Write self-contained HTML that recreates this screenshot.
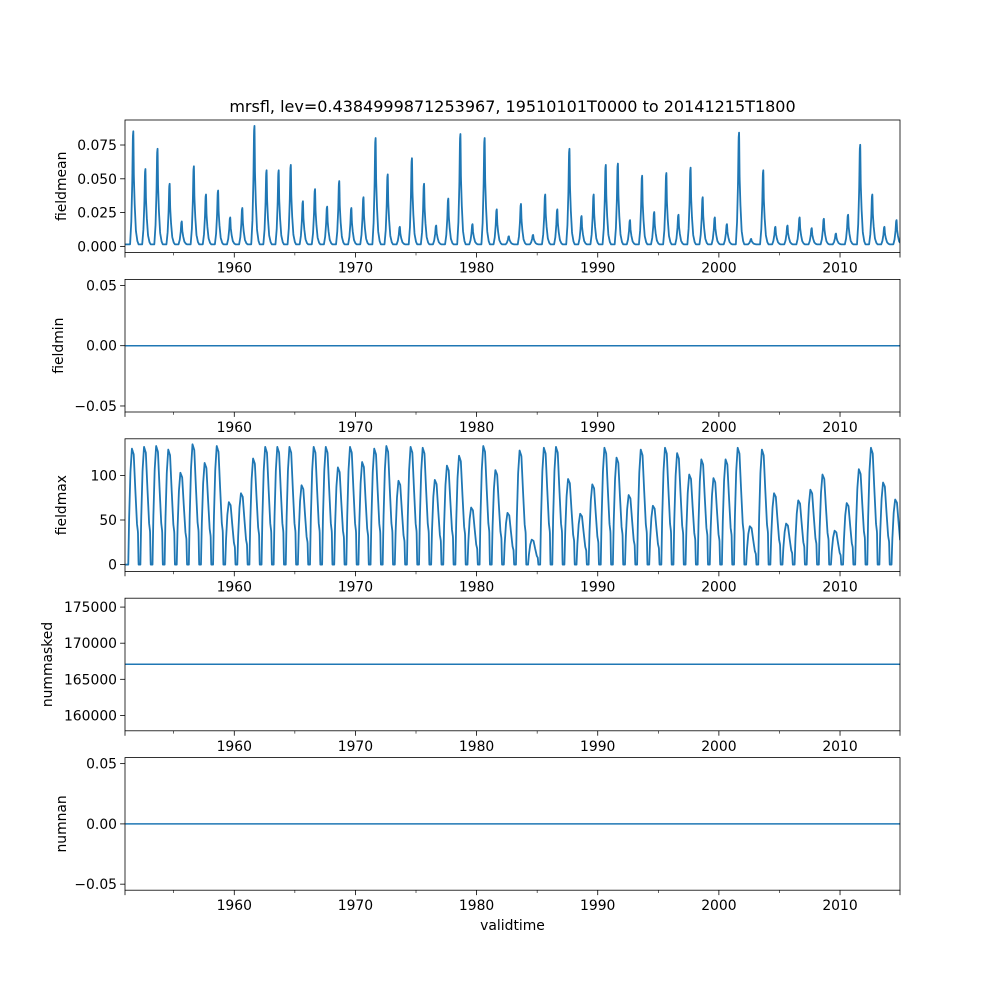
<!DOCTYPE html>
<html><head><meta charset="utf-8">
<style>
body{margin:0;background:#fff;}
svg{display:block;font-family:"DejaVu Sans","Liberation Sans",sans-serif;}
</style></head>
<body>
<svg id="fig" width="1000" height="1000" viewBox="0 0 1000 1000">
<rect width="1000" height="1000" fill="#fff"/>
<text x="512.5" y="112" font-size="16" text-anchor="middle">mrsfl, lev=0.4384999871253967, 19510101T0000 to 20141215T1800</text>
<text x="512.5" y="930" font-size="13.9" text-anchor="middle">validtime</text>
</svg>
<script>
const years = [1951,1952,1953,1954,1955,1956,1957,1958,1959,1960,1961,1962,1963,1964,1965,1966,1967,1968,1969,1970,1971,1972,1973,1974,1975,1976,1977,1978,1979,1980,1981,1982,1983,1984,1985,1986,1987,1988,1989,1990,1991,1992,1993,1994,1995,1996,1997,1998,1999,2000,2001,2002,2003,2004,2005,2006,2007,2008,2009,2010,2011,2012,2013,2014];
const meanPeaks = [.084,.056,.071,.045,.017,.058,.037,.040,.020,.027,.088,.055,.055,.059,.032,.041,.028,.047,.027,.035,.079,.052,.013,.064,.045,.014,.034,.082,.015,.079,.026,.006,.030,.007,.037,.026,.071,.021,.037,.059,.060,.018,.051,.024,.053,.022,.057,.035,.020,.015,.083,.004,.055,.013,.014,.020,.012,.019,.008,.022,.074,.037,.013,.018];
const maxPeaks = [130,132,133,129,103,135,114,133,70,80,119,132,132,132,89,132,132,109,132,115,130,133,94,132,131,95,111,122,64,133,106,58,128,28,131,132,96,57,90,131,120,78,129,66,131,125,101,118,97,118,131,43,129,80,46,72,84,101,38,69,107,131,92,73];
const fieldminValue = [0];
const nummaskedValue = [167085];
const numnanValue = [0];
const xTicks = [1960,1970,1980,1990,2000,2010];
const xMinor = [1955,1965,1975,1985,1995,2005];
const meanTicks = [0,0.025,0.05,0.075];
const meanTickLabels = ["0.000","0.025","0.050","0.075"];
const minTicks = [-0.05,0,0.05];
const minTickLabels = ["\u22120.05","0.00","0.05"];
const maxTicks = [0,50,100];
const maskTicks = [160000,165000,170000,175000];

const NS="http://www.w3.org/2000/svg";
const svg=document.getElementById('fig');
const L=125,R=900,H=132.6;
const tops=[120,279.4,438.8,598.2,757.6];
const T0=1950.98,T1=2014.95,TS=1951.0,TE=2014.96;
function sx(t){return L+(t-T0)*(R-L)/(T1-T0);}
function mk(tag,attrs,parent){const e=document.createElementNS(NS,tag);for(const k in attrs)e.setAttribute(k,attrs[k]);(parent||svg).appendChild(e);return e;}
function interp(tpl,f){if(f<=tpl[0][0]||f>=tpl[tpl.length-1][0])return 0;for(let i=1;i<tpl.length;i++){if(f<=tpl[i][0]){const a=tpl[i-1],b=tpl[i];return a[1]+(b[1]-a[1])*(f-a[0])/(b[0]-a[0]);}}return 0;}
const meanShape=[[0.4,0],[0.5,0.2],[0.58,0.55],[0.63,0.95],[0.67,1],[0.71,0.6],[0.78,0.35],[0.88,0.12],[1.0,0.03],[1.1,0]];
const maxShape=[[0.25,0],[0.32,0.4],[0.43,0.8],[0.55,1],[0.7,0.95],[0.83,0.65],[0.97,0.35],[1.05,0.28],[1.1,0]];
function series(peaks,shape,base,t){let v=base;for(let i=0;i<years.length;i++){const f=t-years[i];if(f>-0.1&&f<1.2)v+=peaks[i]*interp(shape,f);}return v;}

function panel(idx,name,ylabel,ymin,ymax,ticks,labels){
  const top=tops[idx],bot=top+H;
  const g=mk('g',{},svg);
  
  
  const sy=v=>bot-(v-ymin)/(ymax-ymin)*H;
  ticks.forEach((v,i)=>{const y=sy(v);
    const tk=mk('line',{x1:L-4.9,x2:L,y1:y,y2:y,stroke:'#000','stroke-width':0.8},g);
    
    
    const tx=mk('text',{x:L-8,y:y+5,'font-size':13.9,'text-anchor':'end'},g);
    tx.textContent=labels?labels[i]:String(v);
    
    
  });
  [T0,...xTicks,T1].forEach(t=>{const x=sx(t);const tk=mk('line',{x1:x,x2:x,y1:bot,y2:bot+4.9,stroke:'#000','stroke-width':0.8},g);
    
    });
  xMinor.forEach(t=>{const x=sx(t);const tk=mk('line',{x1:x,x2:x,y1:bot,y2:bot+2.8,stroke:'#000','stroke-width':0.6},g);
    
    });
  xTicks.forEach(t=>{const tx=mk('text',{x:sx(t),y:bot+20,'font-size':13.9,'text-anchor':'middle'},g);tx.textContent=String(t);
    
    });
  const yl=mk('text',{x:0,y:0,'font-size':13.9,'text-anchor':'middle',transform:`translate(${idx===3?52:(idx===1?63:66)},${top+H/2}) rotate(-90)`},g);
  yl.textContent=ylabel;
  
  
  return {g,sy,top,bot};
}
function frame(p,name){const r=mk('rect',{x:L,y:p.top,width:R-L,height:H,fill:'none',stroke:'#000','stroke-width':0.8},p.g);
  
  }
function clip(p,id){const c=mk('clipPath',{id:id},svg);mk('rect',{x:L,y:p.top,width:R-L,height:H},c);}

let p=panel(0,'fieldmean','fieldmean',-0.0046,0.0935,meanTicks,meanTickLabels);
clip(p,'c0');
let pts=[];for(let t=TS;t<=TE;t+=1/96){pts.push(sx(t).toFixed(2)+','+p.sy(series(meanPeaks,meanShape,0.0015,t)).toFixed(2));}
let ln=mk('polyline',{points:pts.join(' '),fill:'none',stroke:'#1f77b4','stroke-width':1.8,'stroke-linejoin':'round','clip-path':'url(#c0)'},p.g);


frame(p,'fieldmean');

p=panel(1,'fieldmin','fieldmin',-0.055,0.055,minTicks,minTickLabels);
ln=mk('line',{x1:sx(TS),x2:sx(TE),y1:p.sy(fieldminValue[0]),y2:p.sy(fieldminValue[0]),stroke:'#1f77b4','stroke-width':1.5},p.g);


frame(p,'fieldmin');

p=panel(2,'fieldmax','fieldmax',-7.6,141,maxTicks,null);
clip(p,'c2');
pts=[];for(let t=TS;t<=TE;t+=1/96){pts.push(sx(t).toFixed(2)+','+p.sy(series(maxPeaks,maxShape,0,t)).toFixed(2));}
ln=mk('polyline',{points:pts.join(' '),fill:'none',stroke:'#1f77b4','stroke-width':1.8,'stroke-linejoin':'round','clip-path':'url(#c2)'},p.g);


frame(p,'fieldmax');

p=panel(3,'nummasked','nummasked',157870,176230,maskTicks,null);
ln=mk('line',{x1:sx(TS),x2:sx(TE),y1:p.sy(nummaskedValue[0]),y2:p.sy(nummaskedValue[0]),stroke:'#1f77b4','stroke-width':1.5},p.g);


frame(p,'nummasked');

p=panel(4,'numnan','numnan',-0.055,0.055,minTicks,minTickLabels);
ln=mk('line',{x1:sx(TS),x2:sx(TE),y1:p.sy(numnanValue[0]),y2:p.sy(numnanValue[0]),stroke:'#1f77b4','stroke-width':1.5},p.g);


frame(p,'numnan');
</script>
</body></html>
